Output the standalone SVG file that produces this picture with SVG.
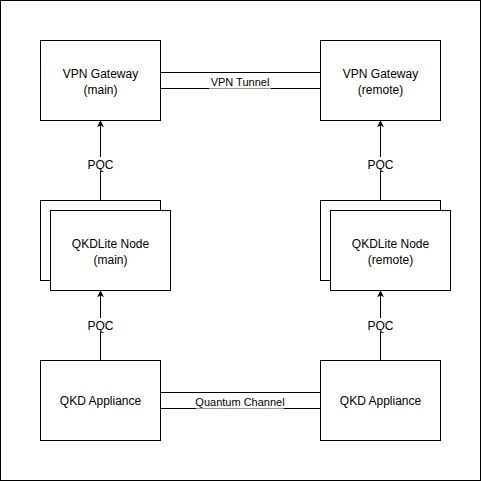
<svg xmlns="http://www.w3.org/2000/svg" width="481" height="481" viewBox="0 0 481 481">
<defs>
<style>
.box{fill:#fff;stroke:#000;stroke-width:1}
.t{font-family:"Liberation Sans",Arial,sans-serif;font-size:12px;fill:#000;text-anchor:middle}
.l{font-family:"Liberation Sans",Arial,sans-serif;font-size:11px;fill:#000;text-anchor:middle}
.c{stroke:#000;stroke-width:1;fill:none}
.bg{fill:#fff}
</style>
<marker id="arr" viewBox="0 0 10 10" refX="9" refY="5" markerWidth="7" markerHeight="7" markerUnits="userSpaceOnUse" orient="auto">
<path d="M0,0 L10,5 L0,10 L3,5 Z" fill="#000"/>
</marker>
</defs>
<rect x="0.5" y="0.5" width="480" height="480" fill="#fff" stroke="#000"/>
<g id="connectors">
<line class="c" x1="160" y1="72.5" x2="320" y2="72.5"/>
<line class="c" x1="160" y1="88.5" x2="320" y2="88.5"/>
<rect class="bg" x="209" y="77" width="62" height="11"/>
<line x1="209" y1="88.5" x2="271" y2="88.5" stroke="#999"/>
<text class="l" x="240" y="86">VPN Tunnel</text>
<line class="c" x1="160" y1="392.5" x2="320" y2="392.5"/>
<line class="c" x1="160" y1="408.5" x2="320" y2="408.5"/>
<rect class="bg" x="196" y="397" width="88" height="11"/>
<line x1="196" y1="408.5" x2="284" y2="408.5" stroke="#999"/>
<text class="l" x="240" y="406">Quantum Channel</text>
<line class="c" x1="100.5" y1="200" x2="100.5" y2="121" marker-end="url(#arr)"/>
<rect class="bg" x="86" y="157" width="29" height="14"/>
<text class="t" x="100.5" y="169">PQC</text>
<line class="c" x1="100.5" y1="360" x2="100.5" y2="291" marker-end="url(#arr)"/>
<rect class="bg" x="86" y="318" width="29" height="14"/>
<text class="t" x="100.5" y="330">PQC</text>
<line class="c" x1="380.5" y1="200" x2="380.5" y2="121" marker-end="url(#arr)"/>
<rect class="bg" x="366" y="157" width="29" height="14"/>
<text class="t" x="380.5" y="169">PQC</text>
<line class="c" x1="380.5" y1="360" x2="380.5" y2="291" marker-end="url(#arr)"/>
<rect class="bg" x="366" y="318" width="29" height="14"/>
<text class="t" x="380.5" y="330">PQC</text>
</g>
<g id="vpn-main">
<rect class="box" x="40.5" y="40.5" width="120" height="80"/>
<text class="t" x="100.5" y="78">VPN Gateway</text>
<text class="t" x="100.5" y="94">(main)</text>
</g>
<g id="vpn-remote">
<rect class="box" x="320.5" y="40.5" width="120" height="80"/>
<text class="t" x="380.5" y="78">VPN Gateway</text>
<text class="t" x="380.5" y="94">(remote)</text>
</g>
<g id="qkdlite-main">
<rect class="box" x="40.5" y="200.5" width="120" height="80"/>
<rect class="box" x="50.5" y="210.5" width="120" height="80"/>
<text class="t" x="110.5" y="248">QKDLite Node</text>
<text class="t" x="110.5" y="264">(main)</text>
</g>
<g id="qkdlite-remote">
<rect class="box" x="320.5" y="200.5" width="120" height="80"/>
<rect class="box" x="330.5" y="210.5" width="120" height="80"/>
<text class="t" x="390.5" y="248">QKDLite Node</text>
<text class="t" x="390.5" y="264">(remote)</text>
</g>
<g id="qkd-main">
<rect class="box" x="40.5" y="360.5" width="120" height="80"/>
<text class="t" x="100.5" y="405">QKD Appliance</text>
</g>
<g id="qkd-remote">
<rect class="box" x="320.5" y="360.5" width="120" height="80"/>
<text class="t" x="380.5" y="405">QKD Appliance</text>
</g>
</svg>
